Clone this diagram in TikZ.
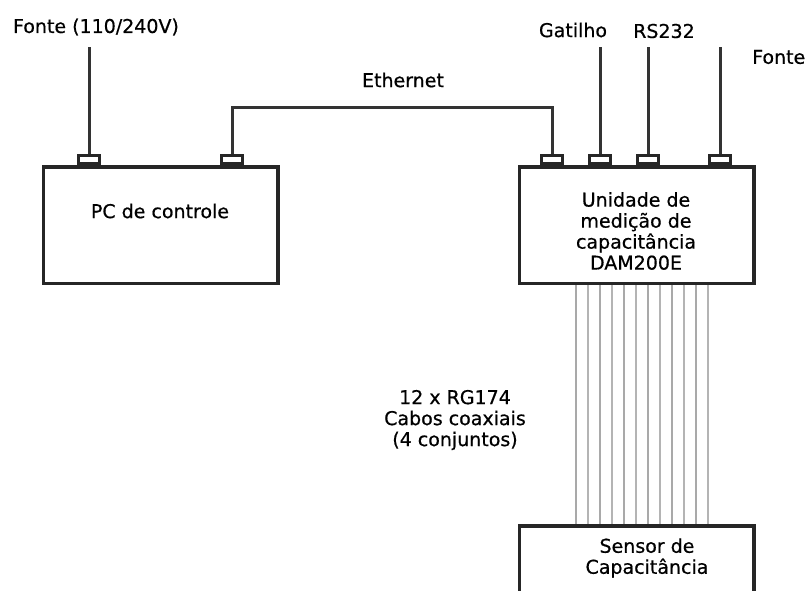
\documentclass[tikz,border=0pt]{standalone}
\usepackage{fontspec}
\setmainfont{DejaVu Sans}
\newfontfamily\lblfont[FakeBold=0.6]{DejaVu Sans}
\begin{document}
\begin{tikzpicture}[x=1pt,y=-1pt,
    box/.style={draw,line width=3.5pt,draw=black!85,minimum width=234.5pt,minimum height=116.5pt,inner sep=0pt},
    port/.style={draw,line width=3pt,draw=black!85,fill=white,minimum width=21pt,minimum height=8pt,inner sep=0pt,anchor=south},
    cable/.style={line width=3pt,draw=black!80},
    coax/.style={line width=2.4pt},
    lbl/.style={font=\lblfont\fontsize{19}{21}\selectfont,align=center,inner sep=0pt}]
    \clip (0,0) rectangle (808,590);
    % boxes
    \node[box] (pc) at (160.5,225) {};
    \node[box] (dam) at (636.5,225) {};
    \node[box] (sensor) at (636.5,584) {};
    \node[lbl] (pctxt) at (160,211) {PC de controle};
    \node[lbl] (damtxt) at (636,231) {Unidade de\\medição de\\capacitância\\DAM200E};
    \node[lbl] (sentxt) at (647,558) {Sensor de\\Capacitância};
    % ports
    \node[port] (p1) at (89,165) {};
    \node[port] (p2) at (232,165) {};
    \node[port] (u1) at (552,165) {};
    \node[port] (u2) at (600,165) {};
    \node[port] (u3) at (648,165) {};
    \node[port] (u4) at (720,165) {};
    % cables
    \coordinate (fpc) at (89,47);
    \coordinate (gat) at (600,47);
    \coordinate (rs) at (648,47);
    \coordinate (fdam) at (720,47);
    \draw[cable] (p1.north) -- (fpc);
    \draw[cable] (u2.north) -- (gat);
    \draw[cable] (u3.north) -- (rs);
    \draw[cable] (u4.north) -- (fdam);
    \draw[cable] (p2.north) |- (392,107) -| (u1.north);
    \node[lbl] (fontepc) at (96,27) {Fonte (110/240V)};
    \node[lbl] (eth) at (403,80) {Ethernet};
    \node[lbl] (gattxt) at (573,30) {Gatilho};
    \node[lbl] (rstxt) at (664,31) {RS232};
    \node[lbl,anchor=west] (fontedam) at (752,57) {Fonte};
    % coaxial cables
    \foreach \i/\s in {0/50,1/70,2/50,3/70,4/50,5/70,6/50,7/70,8/50,9/70,10/50,11/70}
        \draw[coax,draw=gray!\s!black!45] ([xshift=58.5pt+12pt*\i]dam.south west) -- ([xshift=58.5pt+12pt*\i]sensor.north west);
    \node[lbl] (coaxtxt) at (455,420) {12 x RG174\\Cabos coaxiais\\(4 conjuntos)};
\end{tikzpicture}
\end{document}
